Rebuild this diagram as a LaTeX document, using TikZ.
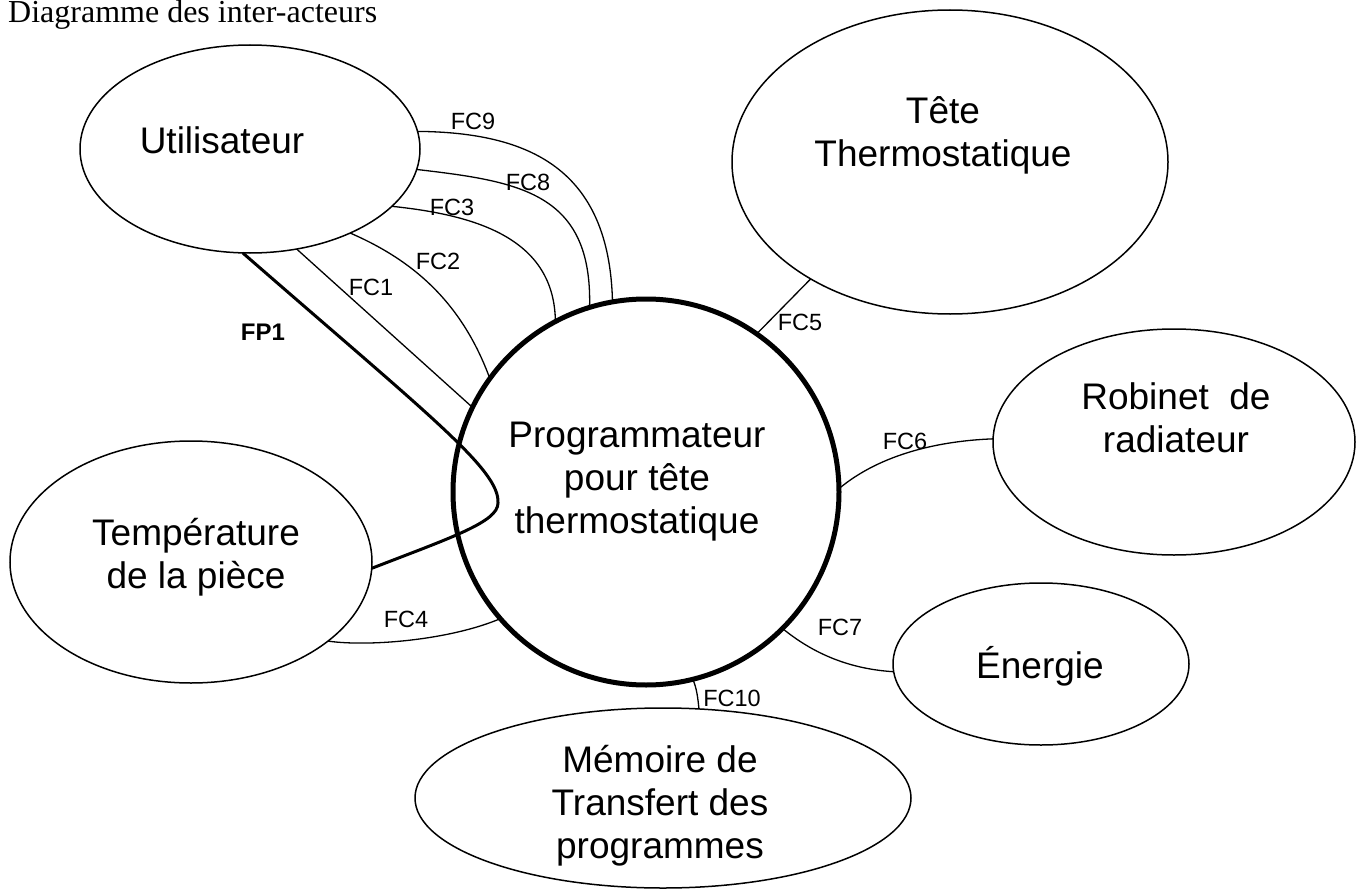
\documentclass[tikz,border=0pt]{standalone}
\usepackage{fontspec}
\setmainfont{Liberation Sans}
\newfontfamily\titrefont{Liberation Serif}
\usepackage{tikz}
\usetikzlibrary{shapes.geometric}

\begin{document}
\begin{tikzpicture}[x=1pt,y=-1pt,
    acteur/.style={draw, ellipse, line width=1.5pt, inner sep=0pt, outer sep=0pt},
    nom/.style={anchor=base, align=center, inner sep=0pt, font=\fontsize{37}{43}\selectfont},
    fc/.style={inner sep=0pt, font=\fontsize{23.5}{28}\selectfont},
    lien/.style={line width=1.3pt}]

    \useasboundingbox (0,0) rectangle (1358,891);

    \node[anchor=base west, inner sep=0pt, font=\titrefont\fontsize{32}{36}\selectfont] at (8,23) (titre) {Diagramme des inter-acteurs};

    \node[acteur, minimum width=340pt, minimum height=208pt] at (250,149) (utilisateur) {};
    \node[acteur, minimum width=436pt, minimum height=304pt] at (950,162) (tete) {};
    \node[acteur, minimum width=362pt, minimum height=226pt] at (1174,442) (robinet) {};
    \node[acteur, minimum width=296pt, minimum height=162pt] at (1041,664) (energie) {};
    \node[acteur, minimum width=496pt, minimum height=180pt] at (663,798) (memoire) {};
    \node[acteur, minimum width=362pt, minimum height=242pt] at (191,562) (temperature) {};
    \node[draw, circle, line width=5pt, minimum size=386pt, inner sep=0pt, outer sep=0pt] at (646,492) (prog) {};

    % base = baseline of the last line
    \node[nom] at (222,153) (utilisateur_txt) {Utilisateur};
    \node[nom] at (943,166) (tete_txt) {Tête\\Thermostatique};
    \node[nom] at (1176,452) (robinet_txt) {Robinet\ \ de\\radiateur};
    \node[nom] at (1040,678) (energie_txt) {Énergie};
    \node[nom] at (660,858) (memoire_txt) {Mémoire de\\Transfert des\\programmes};
    \node[nom] at (196,588) (temperature_txt) {Température\\de la pièce};
    \node[nom] at (637,533) (prog_txt) {Programmateur\\pour tête\\thermostatique};

    \coordinate (fp1_tour) at (498,503);

    \draw[line width=3pt] (utilisateur.-94) .. controls +(187,163) and +(2,-33) .. (fp1_tour)
        .. controls +(0,19) and +(80,-31) .. (temperature.-2);
    \draw[lien] (utilisateur.-65) -- (prog.154);
    \draw[lien] (utilisateur.-40) .. controls +(60,26) and +(-29,-79) .. (prog.144);
    \draw[lien] (utilisateur.-22) .. controls +(87,9) and +(-1,-82) .. (prog.118);
    \draw[lien] (utilisateur.-7) .. controls +(103,12) and +(3,-115) .. (prog.107);
    \draw[lien] (utilisateur.6) .. controls +(112,1) and +(-3,-133) .. (prog.100);
    \draw[lien] (temperature.-30) .. controls +(42,6) and +(-49,21) .. (prog.221);
    \draw[lien] (prog.55) -- (tete.220);
    \draw[lien] (prog.1) .. controls +(42,-35) and +(-53,2) .. (robinet.179);
    \draw[lien] (prog.-45) .. controls +(27,22) and +(-49,-3) .. (energie.183);
    \draw[lien] (prog.-76) .. controls +(4,8) and +(-1,-10) .. (memoire.68);

    \node[fc] at (371,287) (fc1_label) {FC1};
    \node[fc] at (438,261) (fc2_label) {FC2};
    \node[fc] at (452,207) (fc3_label) {FC3};
    \node[fc] at (406,619) (fc4_label) {FC4};
    \node[fc] at (800,322) (fc5_label) {FC5};
    \node[fc] at (905,441) (fc6_label) {FC6};
    \node[fc] at (840,627) (fc7_label) {FC7};
    \node[fc] at (528,182) (fc8_label) {FC8};
    \node[fc] at (473,121) (fc9_label) {FC9};
    \node[fc] at (732,698) (fc10_label) {FC10};
    \node[fc, font=\fontsize{24}{28}\selectfont\bfseries] at (263,332) (fp1_label) {FP1};

\end{tikzpicture}
\end{document}
